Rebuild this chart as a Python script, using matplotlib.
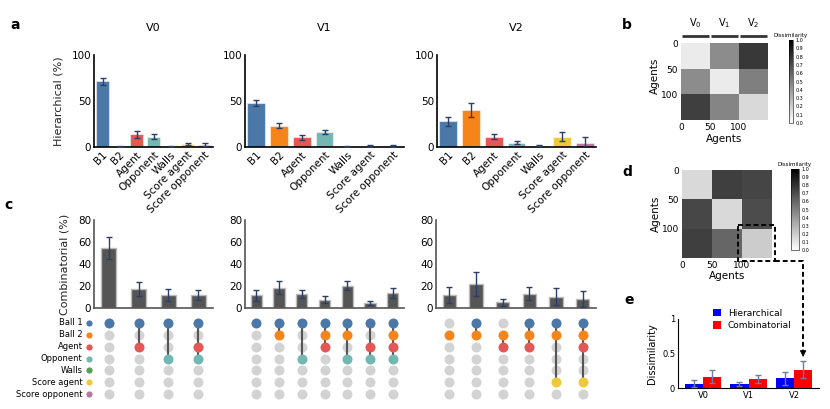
import numpy as np
import matplotlib
matplotlib.use('Agg')
import matplotlib.pyplot as plt
from matplotlib import transforms
from matplotlib.lines import Line2D
from matplotlib.patches import Rectangle, FancyArrowPatch

# ---------------- data ----------------
features = ['B1', 'B2', 'Agent', 'Opponent', 'Walls', 'Score agent', 'Score opponent']
row_labels = ['Ball 1', 'Ball 2', 'Agent', 'Opponent', 'Walls', 'Score agent', 'Score opponent']
feature_colors = ['#4C78A8', '#F58518', '#E45756', '#72B7B2', '#54A24B', '#EECA3B', '#B279A2']
versions = ['V0', 'V1', 'V2']

hier_v0 = [71.5, 0.5, 13.8, 11.2, 1.0, 3.0, 2.5]
hier_v0_err = [4.0, 0.3, 3.5, 2.5, 0.5, 1.0, 1.5]
hier_v1 = [48.0, 23.3, 10.5, 16.0, 0.5, 1.0, 1.5]
hier_v1_err = [3.0, 2.5, 3.0, 2.0, 0.5, 0.8, 1.0]
hier_v2 = [28.0, 40.0, 11.3, 4.7, 1.5, 11.3, 4.7]
hier_v2_err = [5.0, 7.3, 2.5, 1.5, 0.5, 5.3, 6.0]

comb_v0 = [55.0, 17.2, 12.0, 12.0]
comb_v0_err = [10.0, 6.3, 5.3, 4.4]
comb_v0_sets = [[0], [0, 2], [0, 3], [0, 2, 3]]
comb_v1 = [11.6, 18.5, 12.8, 7.6, 20.4, 4.6, 13.7]
comb_v1_err = [5.0, 6.2, 4.0, 3.0, 4.3, 2.0, 4.3]
comb_v1_sets = [[0], [0, 1], [0, 3], [0, 1, 2], [0, 1, 3], [0, 2, 3], [0, 1, 2, 3]]
comb_v2 = [12.0, 22.0, 5.1, 13.0, 10.3, 8.2]
comb_v2_err = [7.0, 11.0, 3.2, 6.0, 8.0, 7.5]
comb_v2_sets = [[1], [0, 1], [1, 2], [0, 1, 2], [0, 1, 5], [0, 1, 2, 5]]

# block-mean dissimilarity between agent groups (50 agents per version)
n_agents = 150
b_blocks = [[0.08, 0.45, 0.78],
            [0.45, 0.08, 0.50],
            [0.75, 0.48, 0.15]]
d_blocks = [[0.15, 0.75, 0.73],
            [0.72, 0.15, 0.70],
            [0.75, 0.60, 0.20]]
cbar_ticks = [0.0, 0.1, 0.2, 0.3, 0.4, 0.5, 0.6, 0.7, 0.8, 0.9, 1.0]

diss_hier = [0.065, 0.058, 0.14]
diss_hier_err = [0.05, 0.03, 0.09]
diss_comb = [0.165, 0.135, 0.265]
diss_comb_err = [0.095, 0.06, 0.12]

# ---------------- figure ----------------
W, H = 830, 409
plt.rcParams['font.family'] = ['DejaVu Sans']
fig = plt.figure(figsize=(W / 100, H / 100), dpi=100)


def px_axes(x0, y0, x1, y1):
    return fig.add_axes([x0 / W, 1 - y1 / H, (x1 - x0) / W, (y1 - y0) / H])


ERR = '#2b3f66'

# ---- panel a ----
a_pos = [(94, 213), (245, 404), (437, 596)]
hier_vals = [hier_v0, hier_v1, hier_v2]
hier_errs = [hier_v0_err, hier_v1_err, hier_v2_err]
for i, (x0, x1) in enumerate(a_pos):
    ax = px_axes(x0, 55, x1, 147)
    xs = np.arange(len(features))
    ax.bar(xs, hier_vals[i], width=0.78, color=feature_colors,
           edgecolor=(1, 1, 1, 0.5), linewidth=0.8, zorder=2)
    ax.errorbar(xs, hier_vals[i], yerr=hier_errs[i], fmt='none', ecolor=ERR,
                elinewidth=1.0, capsize=2.5, capthick=1.0, zorder=3)
    ax.set_xlim(-0.5, len(features) - 0.5)
    ax.set_ylim(0, 100)
    ax.set_yticks([0, 50, 100])
    ax.set_xticks(xs)
    ax.set_xticklabels(features, rotation=45, ha='right', rotation_mode='anchor')
    ax.tick_params(length=0, labelsize=7.5, pad=2)
    for s in ['top', 'right']:
        ax.spines[s].set_visible(False)
    for s in ['left', 'bottom']:
        ax.spines[s].set_linewidth(1.2)
    ax.set_title(versions[i], fontsize=8, pad=17)
    if i == 0:
        ax.set_ylabel('Hierarchical (%)', fontsize=8, labelpad=6, color='#222222')

# ---- panel c ----
comb_vals = [comb_v0, comb_v1, comb_v2]
comb_errs = [comb_v0_err, comb_v1_err, comb_v2_err]
comb_sets = [comb_v0_sets, comb_v1_sets, comb_v2_sets]
c_pos = [(94, 213), (245, 404), (436, 596)]
for i, (x0, x1) in enumerate(c_pos):
    n = len(comb_vals[i])
    xs = np.arange(n)
    ax = px_axes(x0, 220, x1, 308)
    ax.bar(xs, comb_vals[i], width=0.5, color='#555555', edgecolor='#bbbbbb',
           linewidth=1.0, zorder=2)
    ax.errorbar(xs, comb_vals[i], yerr=comb_errs[i], fmt='none', ecolor=ERR,
                elinewidth=1.0, capsize=2.5, capthick=1.0, zorder=3)
    ax.set_xlim(-0.5, n - 0.5)
    ax.set_ylim(0, 80)
    ax.set_yticks([0, 20, 40, 60, 80])
    ax.set_xticks([])
    ax.tick_params(length=0, labelsize=7.5, pad=2)
    for s in ['top', 'right']:
        ax.spines[s].set_visible(False)
    for s in ['left', 'bottom']:
        ax.spines[s].set_color('#555555')
        ax.spines[s].set_linewidth(1.2)
    if i == 0:
        ax.set_ylabel('Combinatorial (%)', fontsize=8, labelpad=6, color='#222222')

    # dot matrix
    dax = px_axes(x0, 317, x1, 400)
    dax.set_xlim(-0.5, n - 0.5)
    dax.set_ylim(len(row_labels) - 0.5, -0.5)
    dax.axis('off')
    for j, members in enumerate(comb_sets[i]):
        for r in range(len(row_labels)):
            if r not in members:
                dax.scatter(j, r, s=52, color='#d3d3d3', zorder=1, linewidths=0)
        if len(members) > 1:
            dax.plot([j, j], [min(members), max(members)], color='#555555', lw=1.5, zorder=2)
        for r in members:
            dax.scatter(j, r, s=52, color=feature_colors[r], zorder=3, linewidths=0)
    if i == 0:
        tdot = transforms.blended_transform_factory(dax.transAxes, dax.transData) + \
            transforms.ScaledTranslation(-0.05, 0, fig.dpi_scale_trans)
        tlab = transforms.blended_transform_factory(dax.transAxes, dax.transData) + \
            transforms.ScaledTranslation(-0.115, 0, fig.dpi_scale_trans)
        for r, lab in enumerate(row_labels):
            dax.scatter([0], [r], s=20, color=feature_colors[r], transform=tdot,
                        clip_on=False, linewidths=0)
            dax.text(0, r, lab, transform=tlab, ha='right', va='center', fontsize=6)


# ---- heatmaps ----
def heatmap(ax, blocks):
    ax.imshow(np.array(blocks), cmap='gray_r', vmin=0, vmax=1, aspect='auto',
              extent=(0, n_agents, n_agents, 0), interpolation='nearest')
    ax.set_xticks([0, 50, 100])
    ax.set_yticks([0, 50, 100])
    ax.tick_params(length=0, labelsize=6.5, pad=2)
    for s in ax.spines.values():
        s.set_visible(False)
    ax.set_xlabel('Agents', fontsize=7.5, labelpad=1)
    ax.set_ylabel('Agents', fontsize=7.5, labelpad=1)


def cbar(cax):
    sm = plt.cm.ScalarMappable(cmap='gray_r', norm=plt.Normalize(0, 1))
    cb = fig.colorbar(sm, cax=cax)
    cb.set_ticks(cbar_ticks)
    cb.ax.tick_params(length=0, labelsize=3.5, pad=2)
    cb.outline.set_linewidth(0.4)
    cax.set_title('Dissimilarity', fontsize=4, pad=2)


bax = px_axes(681, 32, 768, 120.5)
heatmap(bax, b_blocks)
for k, v in enumerate(['V$_0$', 'V$_1$', 'V$_2$']):
    bax.plot([k * 50 + 1, k * 50 + 49], [-15, -15], color='#333333', lw=2,
             clip_on=False, solid_capstyle='butt')
    bax.text(k * 50 + 25, -28, v, ha='center', va='bottom', fontsize=7)
cbar(px_axes(789, 40, 793, 123))

dax_h = px_axes(682, 170, 772, 258)
heatmap(dax_h, d_blocks)
cbar(px_axes(791, 169, 799, 250))
dax_h.add_patch(Rectangle((93, 93), 62, 62, fill=False, ls=(0, (2.5, 1.5)), lw=1.4,
                          ec='black', clip_on=False))

# ---- panel e ----
eax = px_axes(678, 319, 819, 388)
xs = np.arange(len(versions))
bw = 0.4
eax.bar(xs - bw / 2, diss_hier, width=bw, color='#0000ff', label='Hierarchical', zorder=2)
eax.bar(xs + bw / 2, diss_comb, width=bw, color='#ff0000', label='Combinatorial', zorder=2)
eax.errorbar(xs - bw / 2, diss_hier, yerr=diss_hier_err, fmt='none', ecolor='#6f7f9f',
             elinewidth=1.0, capsize=2, zorder=3)
eax.errorbar(xs + bw / 2, diss_comb, yerr=diss_comb_err, fmt='none', ecolor='#6f7f9f',
             elinewidth=1.0, capsize=2, zorder=3)
eax.set_xlim(-0.55, 2.55)
eax.set_ylim(0, 1)
eax.set_yticks([0, 0.5, 1])
eax.set_yticklabels(['0', '0.5', '1'])
eax.set_xticks(xs)
eax.set_xticklabels(versions)
eax.tick_params(length=0, labelsize=6, pad=2)
for s in ['top', 'right']:
    eax.spines[s].set_visible(False)
eax.set_ylabel('Dissimilarity', fontsize=7, labelpad=4)
eax.legend(loc='upper left', bbox_to_anchor=(0.22, 1.2), frameon=False, fontsize=6.5,
           handlelength=0.9, handleheight=0.9, handletextpad=0.8, labelspacing=0.35,
           borderaxespad=0)

# dashed connector from d rectangle to e bar
inv = fig.transFigure.inverted()
p_start = inv.transform(dax_h.transData.transform((155, 155)))
p_end = inv.transform(eax.transData.transform((xs[2] + bw / 2, 0.41)))
p_corner = (p_end[0], p_start[1])
fig.add_artist(Line2D([p_start[0], p_corner[0], p_corner[0]],
                      [p_start[1], p_corner[1], p_end[1] + 0.02],
                      transform=fig.transFigure, color='black', lw=1.4,
                      ls=(0, (2.5, 1.5))))
fig.add_artist(FancyArrowPatch(
    (p_end[0], p_end[1] + 0.03), (p_end[0], p_end[1]), transform=fig.transFigure,
    arrowstyle='-|>', mutation_scale=10, color='black', lw=0.5))

# panel letters
for lab, (x, y) in {'a': (15, 25), 'b': (627, 25), 'c': (8, 205),
                    'd': (627, 172), 'e': (629, 300)}.items():
    fig.text(x / W, 1 - y / H, lab, fontsize=10, fontweight='bold', ha='center', va='center')

fig.savefig('out.png', dpi=100)
